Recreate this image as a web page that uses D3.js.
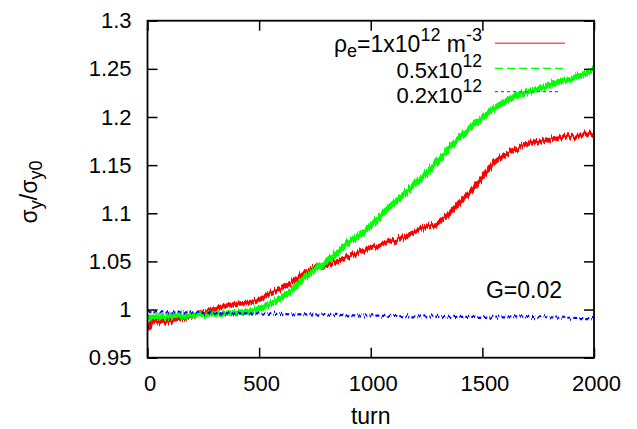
<!DOCTYPE html>
<html>
<head>
<meta charset="utf-8">
<script src="https://cdn.jsdelivr.net/npm/d3@7/dist/d3.min.js"></script>
<style>
  body { margin: 0; background: #fff; }
  text { font-family: "Liberation Sans", Arial, Helvetica, sans-serif; }
</style>
</head>
<body>
<div id="container"></div>
<script>
const turns = [0, 20, 50, 100, 150, 200, 250, 300, 350, 400,
  450, 500, 550, 600, 650, 700, 750, 800, 850, 900,
  950, 1000, 1050, 1100, 1150, 1200, 1250, 1300, 1350, 1400,
  1450, 1500, 1550, 1600, 1650, 1700, 1750, 1800, 1850, 1900,
  1950, 2000];

// sigma_y / sigma_y0 for each electron density
const rho1e12 = [0.978, 0.987, 0.987, 0.988, 0.990, 0.993, 0.997, 1.001, 1.004, 1.006,
  1.007, 1.010, 1.017, 1.022, 1.029, 1.038, 1.044, 1.046, 1.051, 1.055,
  1.060, 1.064, 1.068, 1.071, 1.075, 1.081, 1.086, 1.089, 1.099, 1.112,
  1.123, 1.137, 1.152, 1.161, 1.167, 1.172, 1.175, 1.177, 1.179, 1.180,
  1.181, 1.183];
const rho05e12 = [0.990, 0.992, 0.992, 0.993, 0.993, 0.994, 0.995, 0.996, 0.996, 0.997,
  0.998, 1.001, 1.006, 1.012, 1.021, 1.033, 1.041, 1.050, 1.060, 1.070,
  1.077, 1.087, 1.099, 1.110, 1.120, 1.131, 1.142, 1.155, 1.168, 1.179,
  1.189, 1.199, 1.209, 1.216, 1.222, 1.226, 1.229, 1.233, 1.237, 1.240,
  1.244, 1.249];
const rho02e12 = [0.998, 0.997, 0.997, 0.997, 0.997, 0.997, 0.9965, 0.9965, 0.996, 0.996,
  0.996, 0.996, 0.9955, 0.9955, 0.995, 0.995, 0.995, 0.9945, 0.9945, 0.994,
  0.994, 0.994, 0.9935, 0.9935, 0.993, 0.993, 0.993, 0.9925, 0.9925, 0.9925,
  0.9925, 0.9925, 0.9925, 0.993, 0.993, 0.9925, 0.992, 0.992, 0.9915, 0.9915,
  0.991, 0.991];

const xTicks = [0, 500, 1000, 1500, 2000];
const yTicks = [0.95, 1, 1.05, 1.1, 1.15, 1.2, 1.25, 1.3];

const width = 637, height = 429;
const plotLeft = 147.5, plotRight = 594, plotTop = 20.7, plotBottom = 357.7;

const svg = d3.select("#container")
  .append("svg")
  .attr("width", width)
  .attr("height", height);

const x = d3.scaleLinear().domain([0, 2000]).range([plotLeft, plotRight]);
const y = d3.scaleLinear().domain([0.95, 1.3]).range([plotBottom, plotTop]);

let defs = svg.append("defs");

defs.append("clipPath")
  .attr("id", "plotArea")
  .append("rect")
  .attr("x", plotLeft).attr("y", plotTop)
  .attr("width", plotRight - plotLeft).attr("height", plotBottom - plotTop);

// jagged vertical jitter so the lines look like the noisy tracking data
function jitterFilter(id, scale) {
  const f = defs.append("filter")
    .attr("id", id)
    .attr("filterUnits", "userSpaceOnUse")
    .attr("x", 0).attr("y", 0).attr("width", width).attr("height", height)
    .attr("color-interpolation-filters", "sRGB");
  f.append("feTurbulence")
    .attr("type", "fractalNoise")
    .attr("baseFrequency", "0.7 0.01")
    .attr("numOctaves", 1)
    .attr("seed", 3)
    .attr("result", "noise");
  f.append("feColorMatrix")
    .attr("in", "noise")
    .attr("type", "matrix")
    .attr("values", "0 0 0 0 0.5  0 1 0 0 0  0 0 1 0 0  0 0 0 0 1")
    .attr("result", "map");
  f.append("feDisplacementMap")
    .attr("in", "SourceGraphic")
    .attr("in2", "map")
    .attr("scale", scale)
    .attr("xChannelSelector", "R")
    .attr("yChannelSelector", "G");
}
jitterFilter("jitterBig", 10);
jitterFilter("jitterSmall", 8);

const series = [
  {label: "1e12", values: rho1e12, color: "#ff0000", width: 4.6, dash: null, filter: "jitterBig"},
  {label: "0.5e12", values: rho05e12, color: "#00ff00", width: 5.4, dash: null, filter: "jitterBig"},
  {label: "0.2e12", values: rho02e12, color: "#0000ff", width: 2.2, dash: "4,2", filter: "jitterSmall"}
];

const line = d3.line()
  .x((d, i) => x(turns[i]))
  .y(d => y(d));

const plot = svg.append("g").attr("clip-path", "url(#plotArea)");

plot.selectAll(".series")
  .data(series)
  .join("path")
  .attr("class", "series")
  .attr("d", d => line(d.values))
  .attr("fill", "none")
  .attr("stroke", d => d.color)
  .attr("stroke-width", d => d.width)
  .attr("stroke-dasharray", d => d.dash)
  .attr("filter", d => `url(#${d.filter})`);

// axes: ticks on all four sides pointing inward
const fmt = d => String(+d.toFixed(2));

const gLeft = svg.append("g")
  .attr("transform", `translate(${plotLeft},0)`)
  .call(d3.axisLeft(y).tickValues(yTicks).tickSize(-10).tickPadding(16).tickFormat(fmt));
const gBottom = svg.append("g")
  .attr("transform", `translate(0,${plotBottom})`)
  .call(d3.axisBottom(x).tickValues(xTicks).tickSize(-10).tickPadding(18).tickFormat(d3.format("d")));
const gRight = svg.append("g")
  .attr("transform", `translate(${plotRight},0)`)
  .call(d3.axisRight(y).tickValues(yTicks).tickSize(-10).tickFormat(""));
const gTop = svg.append("g")
  .attr("transform", `translate(0,${plotTop})`)
  .call(d3.axisTop(x).tickValues(xTicks).tickSize(-10).tickFormat(""));

[gLeft, gBottom, gRight, gTop].forEach(g => {
  g.select(".domain").remove();
  g.selectAll(".tick line").attr("stroke", "#000").attr("stroke-width", 1.5);
  g.selectAll(".tick text")
    .attr("font-size", "22px")
    .attr("fill", "#000")
    .attr("font-family", "Liberation Sans, Arial, sans-serif");
});
gBottom.selectAll(".tick text").attr("dx", 2);

svg.append("rect")
  .attr("x", plotLeft).attr("y", plotTop)
  .attr("width", plotRight - plotLeft).attr("height", plotBottom - plotTop)
  .attr("fill", "none")
  .attr("stroke", "#000")
  .attr("stroke-width", 1.8);

// axis titles
svg.append("text")
  .attr("x", (plotLeft + plotRight) / 2)
  .attr("y", 424)
  .attr("text-anchor", "middle")
  .attr("font-size", "23px")
  .text("turn");

const yl = svg.append("text")
  .attr("transform", "translate(37,192) rotate(-90)")
  .attr("text-anchor", "middle")
  .attr("font-size", "23px");
yl.append("tspan").text("σ");
yl.append("tspan").attr("font-size", "18px").attr("dy", 5).text("y");
yl.append("tspan").attr("dy", -5).text("/σ");
yl.append("tspan").attr("font-size", "18px").attr("dy", 5).text("y0");

// legend: each run of normal / super / subscript text is its own element,
// laid out right-aligned to xEnd
function richText(xEnd, base, runs) {
  const els = runs.map(r => svg.append("text")
    .attr("y", base + (r.shift || 0))
    .attr("font-size", r.size + "px")
    .style("white-space", "pre")
    .text(r.t));
  const widths = els.map(e => e.node().getComputedTextLength());
  let cx = xEnd - d3.sum(widths);
  els.forEach((e, i) => { e.attr("x", cx); cx += widths[i]; });
}

const legendX = 482, sampleX0 = 495;
const legendRows = [
  {base: 52, lineY: 43.3, color: "#ff5a5a", width: 1.5, dash: null, x1: 565},
  {base: 77.5, lineY: 68.3, color: "#00ff00", width: 1.3, dash: "8,4", x1: 565},
  {base: 102.5, lineY: 91.7, color: "#4f4fff", width: 1.3, dash: "3,3", x1: 560}
];
const legendRuns = [
  [{t: "ρ", size: 23}, {t: "e", size: 18, shift: 5}, {t: "=1x10", size: 23},
   {t: "12", size: 18, shift: -11}, {t: " m", size: 23}, {t: "-3", size: 18, shift: -11}],
  [{t: "0.5x10", size: 22}, {t: "12", size: 17.5, shift: -11}],
  [{t: "0.2x10", size: 22}, {t: "12", size: 17.5, shift: -11}]
];
legendRuns.forEach((runs, i) => richText(legendX, legendRows[i].base, runs));

svg.selectAll(".legendLine")
  .data(legendRows)
  .join("line")
  .attr("class", "legendLine")
  .attr("x1", sampleX0).attr("x2", d => d.x1)
  .attr("y1", d => d.lineY).attr("y2", d => d.lineY)
  .attr("stroke", d => d.color)
  .attr("stroke-width", d => d.width)
  .attr("stroke-dasharray", d => d.dash);

svg.append("text")
  .attr("x", 562).attr("y", 298)
  .attr("text-anchor", "end")
  .attr("font-size", "23px")
  .text("G=0.02");
</script>
</body>
</html>
